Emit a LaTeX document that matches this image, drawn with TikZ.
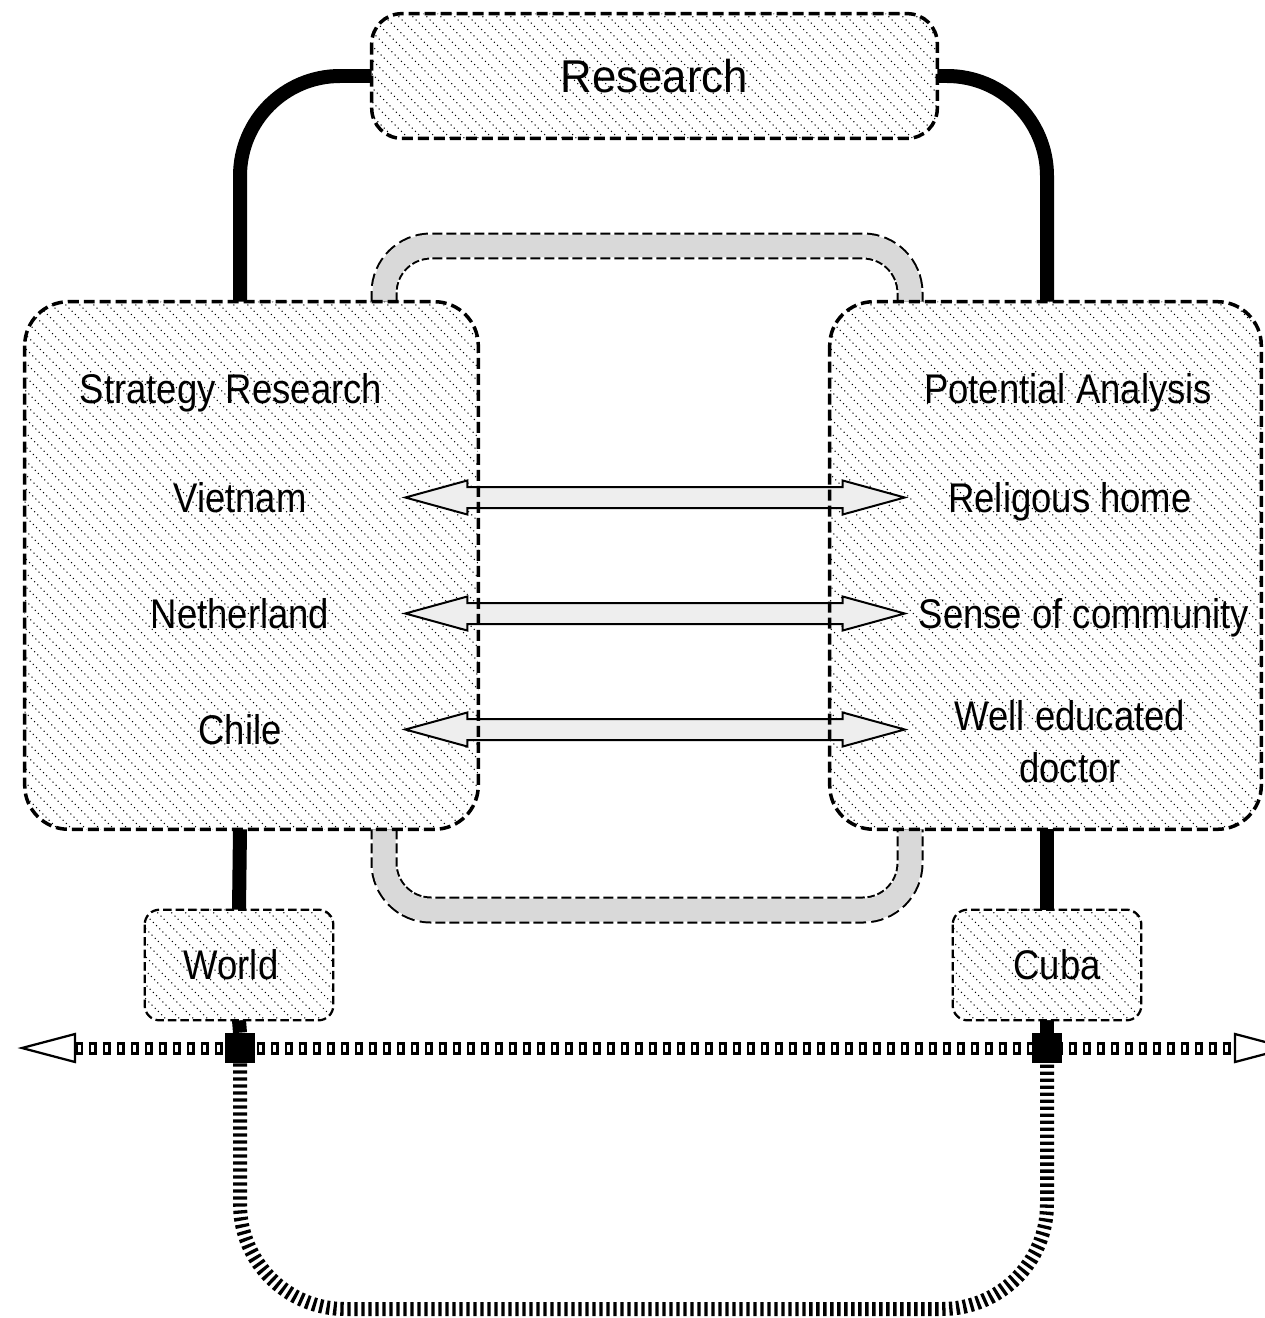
\documentclass[tikz,border=0pt]{standalone}
\usepackage{fontspec}
\setmainfont{Liberation Sans}[FakeStretch=0.88]
\newfontfamily\resfont{Liberation Sans}[FakeStretch=0.95]
\usetikzlibrary{calc}
\definecolor{bandgray}{HTML}{D9D9D9}
\definecolor{arrowgray}{HTML}{EEEEEE}
\pgfdeclarelayer{bg}
\pgfsetlayers{bg,main}
\newcommand\bodyfont{\fontsize{23.6pt}{29.6pt}\selectfont}
\newcommand\resstyle{\resfont\fontsize{26.2pt}{32pt}\selectfont}
\tikzset{
  boxbase/.style={fill=white, inner sep=0pt, draw=none},
  bigborder/.style={line width=0.07cm, dash pattern=on 0.22cm off 0.1cm},
  smallborder/.style={line width=0.045cm, dash pattern=on 0.17cm off 0.08cm},
  hatchline/.style={line width=0.03cm, dash pattern=on 0cm off 0.09cm, line cap=round},
  conn/.style={line width=0.28cm},
  bandedge/.style={line width=0.54cm, dash pattern=on 0.2cm off 0.08cm, rounded corners=0.94cm},
  bandfill/.style={draw=bandgray, line width=0.46cm, rounded corners=0.94cm},
  dblarrow/.style={draw=black, fill=arrowgray, line width=0.04cm},
  sqouter/.style={line width=0.26cm, dash pattern=on 0.16cm off 0.12cm},
  sqinner/.style={draw=white, line width=0.14cm, dash pattern=on 0.06cm off 0.22cm, dash phase=0.23cm},
  openhead/.style={draw=black, fill=white, line width=0.045cm},
  ladder/.style={line width=0.28cm, dash pattern=on 0.066cm off 0.074cm, rounded corners=2.1cm},
  marker/.style={fill=black, inner sep=0pt, minimum size=0.6cm},
  sidetext/.style={minimum width=6.6cm, inner sep=0pt, text height=0.6cm, text depth=0pt},
  titletext/.style={inner sep=0pt, text height=0.6cm, text depth=0pt},
}
\newcommand\hatchin[2]{%
  \begin{scope}
    \clip[rounded corners=#2] (#1.north west) rectangle (#1.south east);
    \foreach \k in {0,...,90}{\draw[hatchline] ($(#1.north west)+(-620+\k*14,0)$) -- ++(700,700);}
  \end{scope}}
\newcommand\boxline[3]{\draw[#3, rounded corners=#2] (#1.north west) rectangle (#1.south east);}
\newcommand\dblarr[2]{\draw[dblarrow] (#1) -- ($(#1)+(62,-17)$) -- ($(#1)+(62,-10.5)$) -- ($(#2)+(-62,-10.5)$) -- ($(#2)+(-62,-17)$) -- (#2) -- ($(#2)+(-62,17)$) -- ($(#2)+(-62,10.5)$) -- ($(#1)+(62,10.5)$) -- ($(#1)+(62,17)$) -- cycle;}
\begin{document}
\begin{tikzpicture}[x=0.02cm,y=-0.02cm,font=\bodyfont]
\useasboundingbox (0,0) rectangle (1264,1318);
\coordinate (xl) at (240,0);
\coordinate (xr) at (1047,0);
\coordinate (bl) at (384,0);
\coordinate (br) at (910,0);
\coordinate (bt) at (640,246);
\coordinate (bb) at (640,910);
\coordinate (cb) at (640,1309);
\coordinate (tipL) at (22,1048);
\coordinate (tipR) at (1288,1048);
% boxes
\node[boxbase, rounded corners=0.6cm, minimum width=11.3cm, minimum height=2.48cm, font=\resstyle] (res) at (654.5,76) {Research};
\node[boxbase, rounded corners=0.88cm, minimum width=9.06cm, minimum height=10.54cm] (sr) at (251.5,565.5) {};
\node[boxbase, rounded corners=0.88cm, minimum width=8.62cm, minimum height=10.54cm] (pa) at (1045.5,565.5) {};
\node[boxbase, rounded corners=0.3cm, minimum width=3.76cm, minimum height=2.2cm] (world) at (239,965) {};
\node[boxbase, rounded corners=0.3cm, minimum width=3.76cm, minimum height=2.2cm] (cuba) at (1047,965) {};
\hatchin{res}{0.6cm}
\hatchin{sr}{0.88cm}
\hatchin{pa}{0.88cm}
\hatchin{world}{0.3cm}
\hatchin{cuba}{0.3cm}
% texts
\node[titletext] (wt) at (231,964) {World};
\node[titletext] (ct) at (1057,964) {Cuba};
\node[titletext] (srt) at (231,388) {Strategy Research};
\node[sidetext] (viet) at (240,497.5) {Vietnam};
\node[sidetext] (neth) at (240,613.5) {Netherland};
\node[sidetext] (chile) at (240,729.5) {Chile};
\node[titletext] (pat) at (1068,388) {Potential Analysis};
\node[sidetext] (relig) at (1070,497.5) {Religous home};
\node[sidetext] (sense) at (1084,613.5) {Sense of community};
\node[align=center, inner sep=0pt] (doc) at (1070,742) {Well educated\\doctor};
% arrows
\dblarr{viet.east}{relig.west}
\dblarr{neth.east}{relig.west |- neth.east}
\dblarr{chile.east}{relig.west |- chile.east}
% borders
\boxline{res}{0.6cm}{bigborder}
\boxline{sr}{0.88cm}{bigborder}
\boxline{pa}{0.88cm}{bigborder}
\boxline{world}{0.3cm}{smallborder}
\boxline{cuba}{0.3cm}{smallborder}
% bottom line
\draw[sqouter] ($(tipL)+(53,0)$) -- ($(tipR)+(-53,0)$);
\draw[sqinner] ($(tipL)+(53,0)$) -- ($(tipR)+(-53,0)$);
\draw[openhead] (tipL) -- ++(53,-14) -- ++(0,28) -- cycle;
\draw[openhead] (tipR) -- ++(-53,-14) -- ++(0,28) -- cycle;
\node[marker] (mw) at (240,1048) {};
\node[marker] (mc) at (1047,1048) {};
\draw[ladder] (mw.south) |- (cb) -| (mc.south);
\begin{pgfonlayer}{bg}
\draw[bandedge] (sr.north -| bl) |- (bt) -| (pa.north -| br);
\draw[bandfill] (sr.north -| bl) |- (bt) -| (pa.north -| br);
\draw[bandedge] (sr.south -| bl) |- (bb) -| (pa.south -| br);
\draw[bandfill] (sr.south -| bl) |- (bb) -| (pa.south -| br);
\draw[conn, rounded corners=2cm] (res.west) -| (sr.north -| xl);
\draw[conn, rounded corners=2cm] (res.east) -| (pa.north -| xr);
\draw[conn] (sr.south -| xl) -- (world.north);
\draw[conn] (pa.south -| xr) -- (cuba.north);
\draw[conn] (world.south) -- (mw.north);
\draw[conn] (cuba.south) -- (mc.north);
\end{pgfonlayer}
\end{tikzpicture}
\end{document}
